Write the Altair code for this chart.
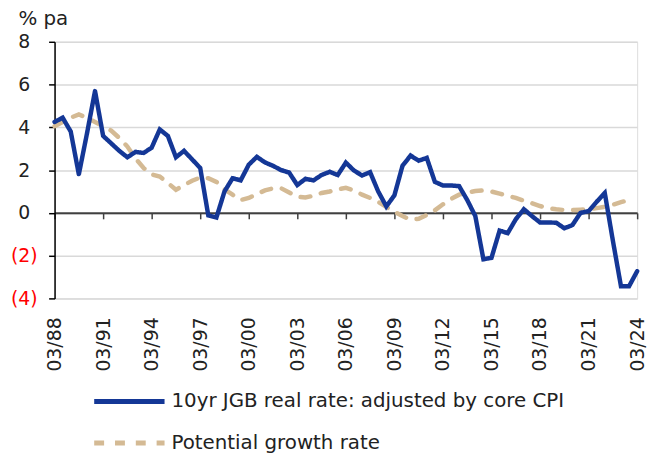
import altair as alt
import pandas as pd

# Semi-annual observation labels (March / September), 03/88 .. 03/24
dates = [f"{m}/{y % 100:02d}" for y in range(1988, 2025) for m in ("03", "09")][:-1]

jgb_real = [
    4.25, 4.45, 3.8, 1.8, 3.7, 5.7, 3.6, 3.25, 2.9, 2.6,
    2.85, 2.8, 3.05, 3.9, 3.6, 2.6, 2.9, 2.5, 2.1, -0.12,
    -0.22, 1.0, 1.62, 1.52, 2.25, 2.62, 2.36, 2.2, 2.0, 1.88,
    1.3, 1.59, 1.52, 1.77, 1.92, 1.77, 2.35, 1.98, 1.75, 1.9,
    1.0, 0.3, 0.82, 2.2, 2.68, 2.44, 2.57, 1.45, 1.28, 1.28,
    1.25, 0.6, -0.15, -2.17, -2.1, -0.83, -0.95, -0.3, 0.17, -0.15,
    -0.45, -0.45, -0.46, -0.72, -0.57, 0.0, 0.08, 0.52, 0.93, -1.3,
    -3.43, -3.43, -2.73,
]

potential = [
    4.05, 4.25, 4.45, 4.6, 4.45, 4.25, 4.05, 3.85, 3.5, 3.1,
    2.55, 2.1, 1.8, 1.7, 1.4, 1.08, 1.3, 1.5, 1.65, 1.62,
    1.45, 1.1, 0.85, 0.6, 0.7, 0.88, 1.05, 1.15, 1.15, 0.95,
    0.75, 0.72, 0.8, 0.93, 1.0, 1.1, 1.17, 1.05, 0.85, 0.7,
    0.52, 0.28, 0.05, -0.15, -0.32, -0.28, -0.1, 0.12, 0.4, 0.65,
    0.85, 0.95, 1.02, 1.05, 1.0, 0.9, 0.8, 0.7, 0.57, 0.45,
    0.32, 0.22, 0.17, 0.13, 0.13, 0.15, 0.16, 0.22, 0.28, 0.38,
    0.5, 0.6, None,
]

tick_labels = ["03/88", "03/91", "03/94", "03/97", "03/00", "03/03", "03/06",
               "03/09", "03/12", "03/15", "03/18", "03/21", "03/24"]
y_ticks = [-4, -2, 0, 2, 4, 6, 8]
series_names = ["10yr JGB real rate: adjusted by core CPI", "Potential growth rate"]
colors = ["#143796", "#D4BA94"]
dashes = [[1, 0], [10, 11]]

rows = []
for i, (d, v) in enumerate(zip(dates, potential)):
    if v is not None:
        rows.append({"date": d, "idx": i, "series": series_names[1], "value": v})
for i, (d, v) in enumerate(zip(dates, jgb_real)):
    if v is not None:
        rows.append({"date": d, "idx": i, "series": series_names[0], "value": v})
df = pd.DataFrame(rows)

W, H = 588, 259
FONT = "DejaVu Sans"
TXT = "#222222"

legend_kw = dict(
    title=None, orient="none", legendX=63, legendY=350.5, direction="vertical",
    symbolType="M-3.55,0H3.55", symbolSize=400, symbolStrokeWidth=5,
    symbolOffset=0, labelOffset=30, rowPadding=19, labelFontSize=20,
    labelFont=FONT, labelColor=TXT, labelLimit=700, padding=0,
)

chart = alt.Chart(df).mark_line(strokeWidth=4.5, strokeCap="round").encode(
    x=alt.X(
        "date:O", sort=dates,
        scale=alt.Scale(type="point", padding=0),
        axis=alt.Axis(
            values=tick_labels, title=None, labelAngle=270, offset=-H / 3,
            tickSize=6, tickWidth=1.5, tickColor="#404040",
            domainColor="#404040", domainWidth=2, labelPadding=99,
            labelFontSize=19, labelFont=FONT, labelColor=TXT, grid=False,
        ),
    ),
    y=alt.Y(
        "value:Q",
        scale=alt.Scale(domain=[-4, 8], nice=False, zero=False),
        axis=alt.Axis(
            values=y_ticks, title="% pa", titleAngle=0, titleAlign="left",
            titleBaseline="alphabetic", titleX=-37, titleY=-17,
            titleFontSize=20, titleFontWeight="normal", titleFont=FONT,
            titleColor=TXT, labelFontSize=19, labelFont=FONT,
            labelAlign="center", labelBaseline="middle", labelPadding=25,
            labelExpr="datum.value < 0 ? '(' + abs(datum.value) + ')' : datum.value",
            labelColor={"condition": {"test": "datum.value < 0", "value": "#FF0000"},
                        "value": TXT},
            tickSize=6, tickWidth=1.5, tickColor="#000000",
            domainColor="#000000", domainWidth=1.5,
            grid=True, gridColor="#D9D9D9", gridWidth=1.5,
        ),
    ),
    color=alt.Color("series:N", scale=alt.Scale(domain=series_names, range=colors),
                    legend=alt.Legend(**legend_kw)),
    strokeDash=alt.StrokeDash("series:N", scale=alt.Scale(domain=series_names, range=dashes),
                              legend=alt.Legend(**legend_kw)),
    order=alt.Order("idx:Q"),
).properties(
    width=W, height=H,
    autosize=alt.AutoSizeParams(type="none"),
    padding={"left": 47, "top": 32, "right": 16, "bottom": 162},
).configure_view(stroke=None).configure(font=FONT)

chart.save("out.html", embed_options={"renderer": "svg", "actions": False})
